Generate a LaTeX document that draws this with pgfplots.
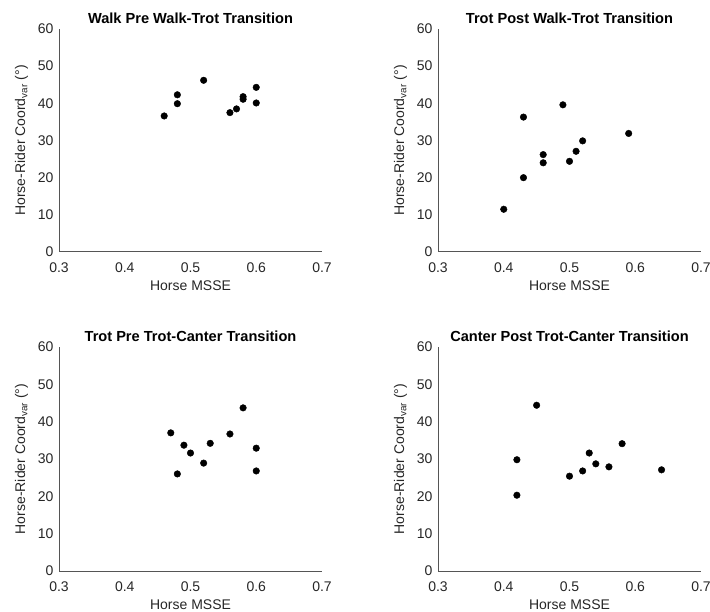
\documentclass[border=0pt]{standalone}
\usepackage{fontspec}
\setmainfont{Liberation Sans}
\usepackage{pgfplots}
\pgfplotsset{compat=1.18}
\definecolor{axgray}{HTML}{555555}
\definecolor{txtgray}{HTML}{262626}
\pgfplotsset{
  panel/.style={
    scale only axis,
    width=263pt, height=223pt,
    anchor=south west,
    xmin=0.3, xmax=0.7, ymin=0, ymax=60,
    xtick={0.3,0.4,...,0.7}, ytick={0,10,...,60},
    xticklabels={0.3,0.4,0.5,0.6,0.7},
    axis x line=bottom, axis y line=left,
    axis line style={-, axgray, line width=1pt},
    major tick length=0pt,
    /pgf/number format/assume math mode=true,
    tick label style={font=\fontsize{14}{16}\selectfont, text=txtgray},
    xticklabel style={yshift=-7pt},
    yticklabel style={xshift=-2pt},
    label style={font=\fontsize{14}{16}\selectfont, text=txtgray},
    xlabel={Horse MSSE},
    ylabel={Horse-Rider Coord\textsubscript{var} (°)},
    xlabel style={yshift=-1pt},
    ylabel style={yshift=3pt},
    title style={font=\bfseries\fontsize{14.6}{17}\selectfont, text=black, yshift=-4pt},
    clip=false,
  },
  dots/.style={only marks, mark=*, mark size=3.3pt, black, mark options={fill=black, draw=black}},
}
\begin{document}
\begin{tikzpicture}
\useasboundingbox (0pt,0pt) rectangle (710pt,611pt);
\begin{axis}[panel, at={(59pt,359pt)}, title={Walk Pre Walk-Trot Transition}]
\addplot[dots] coordinates {
 (0.46,36.6) (0.48,42.3) (0.48,39.9) (0.52,46.2) (0.56,37.5)
 (0.57,38.5) (0.58,41.8) (0.58,41.1) (0.60,44.3) (0.60,40.1)
};
\end{axis}
\begin{axis}[panel, at={(438pt,359pt)}, title={Trot Post Walk-Trot Transition}]
\addplot[dots] coordinates {
 (0.40,11.5) (0.43,36.3) (0.43,20.0) (0.46,26.2) (0.46,24.0)
 (0.49,39.6) (0.50,24.4) (0.51,27.1) (0.52,29.9) (0.59,31.9)
};
\end{axis}
\begin{axis}[panel, at={(59pt,40pt)}, height=224pt, title={Trot Pre Trot-Canter Transition}]
\addplot[dots] coordinates {
 (0.47,37.0) (0.48,26.0) (0.49,33.7) (0.50,31.6) (0.52,28.9)
 (0.53,34.2) (0.56,36.7) (0.58,43.7) (0.60,32.9) (0.60,26.8)
};
\end{axis}
\begin{axis}[panel, at={(438pt,40pt)}, height=224pt, title={Canter Post Trot-Canter Transition}]
\addplot[dots] coordinates {
 (0.42,29.8) (0.42,20.3) (0.45,44.4) (0.50,25.4) (0.52,26.8)
 (0.53,31.6) (0.54,28.7) (0.56,27.9) (0.58,34.1) (0.64,27.1)
};
\end{axis}
\end{tikzpicture}
\end{document}
